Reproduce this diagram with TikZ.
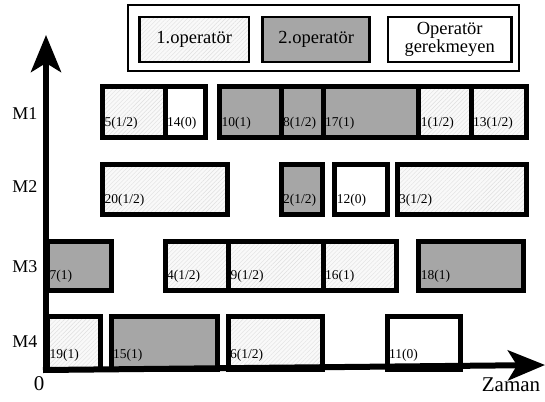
\documentclass[tikz,border=0pt]{standalone}
\usepackage{fontspec}
\setmainfont{Liberation Serif}
\usetikzlibrary{arrows.meta,patterns.meta}
\tikzset{
  task/.style={line width=5pt, line join=miter},
  hatch/.style={task, preaction={fill=gray!5}, pattern={Lines[angle=45,distance=3pt,line width=0.4pt]}, pattern color=gray!25},
  dark/.style={task, fill=gray!70},
  plain/.style={task, fill=white},
  lbl/.style={anchor=base west, inner sep=0pt, font=\fontsize{13.5}{15}\selectfont},
  rowlbl/.style={font=\fontsize{18}{20}\selectfont, inner sep=0pt},
  axis/.style={line width=6pt, -{Stealth[length=37pt,width=30pt,inset=9pt]}},
  legbox/.style={draw, line width=2.5pt, inner sep=0pt, font=\fontsize{18.5}{19}\selectfont, align=center},
}
\newcommand\jobbox[7]{% style, left, right, top, bottom, name, text
  \draw[#1] (#2,#4) rectangle (#3,#5);
  \node[lbl] (#6) at (#2+2,#5-11) {#7};}
\begin{document}
\begin{tikzpicture}[x=1pt,y=-1pt]
\useasboundingbox (0,0) rectangle (545,401);
% M1
\jobbox{hatch}{102.5}{165}{87}{137}{j5}{5(1/2)}
\jobbox{plain}{165}{205.5}{87}{137}{j14}{14(0)}
\jobbox{dark}{219.5}{281}{87}{137}{j10}{10(1)}
\jobbox{dark}{281}{323}{87}{137}{j8}{8(1/2)}
\jobbox{dark}{323}{418.7}{87}{137}{j17}{17(1)}
\jobbox{hatch}{418.7}{471}{87}{137}{j1}{1(1/2)}
\jobbox{hatch}{471}{526.5}{87}{137}{j13}{13(1/2)}
% M2
\jobbox{hatch}{102.5}{227.5}{164}{214}{j20}{20(1/2)}
\jobbox{dark}{281}{322}{164}{214}{j2}{2(1/2)}
\jobbox{plain}{334.7}{387}{164}{214}{j12}{12(0)}
\jobbox{hatch}{397}{526}{164}{214}{j3}{3(1/2)}
% M3
\jobbox{dark}{47.5}{111}{241.5}{290.5}{j7}{7(1)}
\jobbox{hatch}{165}{228.5}{241.5}{290.5}{j4}{4(1/2)}
\jobbox{hatch}{228.5}{323}{241.5}{290.5}{j9}{9(1/2)}
\jobbox{hatch}{323}{396.7}{241.5}{290.5}{j16}{16(1)}
\jobbox{dark}{418.7}{523.7}{241.5}{290.5}{j18}{18(1)}
% M4
\jobbox{hatch}{47.5}{100.5}{316.5}{369}{j19}{19(1)}
\jobbox{dark}{111}{217}{316.5}{369}{j15}{15(1)}
\jobbox{hatch}{228}{322}{316.5}{369}{j6}{6(1/2)}
\jobbox{plain}{387}{460.5}{316.5}{369}{j11}{11(0)}
% axes
\coordinate (O) at (46,370);
\coordinate (ytop) at (46,35);
\coordinate (xend) at (545,365);
\draw[axis] (46,373) -- (ytop);
\draw[axis] (43,370) -- (xend);
\node[font=\fontsize{21}{23}\selectfont, inner sep=0pt] (zero) at (39,384) {0};
\node[font=\fontsize{21}{23}\selectfont, inner sep=0pt] (zaman) at (511,385) {Zaman};
% row labels
\node[rowlbl] (m1) at (25,114) {M1};
\node[rowlbl] (m2) at (25,187) {M2};
\node[rowlbl] (m3) at (25,267) {M3};
\node[rowlbl] (m4) at (25,342) {M4};
% legend
\node[draw, line width=2.5pt, minimum width=391pt, minimum height=66pt, inner sep=0pt] (leg) at (323.5,38) {};
\node[legbox, preaction={fill=gray!5}, pattern={Lines[angle=45,distance=3pt,line width=0.4pt]}, pattern color=gray!25, minimum width=109.5pt, minimum height=45pt] (l1) at (194.2,39.5) {1.operatör};
\node[legbox, fill=gray!70, minimum width=107pt, minimum height=45pt] (l2) at (316.2,39.5) {2.operatör};
\node[legbox, fill=white, minimum width=123.5pt, minimum height=45pt] (l3) at (449.7,39.5) {Operatör\\[-1pt]gerekmeyen};
\end{tikzpicture}
\end{document}
